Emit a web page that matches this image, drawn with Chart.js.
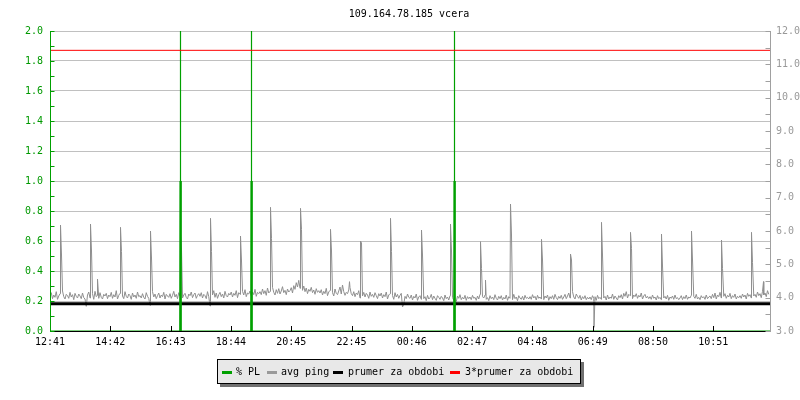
<!DOCTYPE html>
<html>
<head>
<meta charset="utf-8">
<script src="https://cdn.jsdelivr.net/npm/chart.js@4/dist/chart.umd.min.js"></script>
<style>
  html, body { margin: 0; padding: 0; background: #ffffff; }
  #wrap { position: relative; width: 800px; height: 400px; font-family: 'DejaVu Sans Mono', monospace; font-size: 10px; }
  #c { position: absolute; left: 0; top: 0; }
  #title { position: absolute; left: 49px; top: 8px; width: 720px; text-align: center; line-height: 12px; color: #000; white-space: pre; }
  #legend { position: absolute; left: 217px; top: 359px; width: 362px; height: 23px; background: #e8e8e8; border: 1px solid #000; box-shadow: 3px 3px 0 #707070; }
  .item { position: absolute; top: 6px; line-height: 12px; white-space: pre; color: #000; }
  .sw { position: absolute; top: 11px; width: 10px; height: 3px; }
</style>
</head>
<body>
<div id="wrap">
  <canvas id="c" width="800" height="400"></canvas>
  <div id="title"></div>
  <div id="legend"></div>
</div>
<script>
// ---------- DATA ----------
const chartTitle = '109.164.78.185 vcera';
const seriesNames = ['% PL', 'avg ping', 'prumer za obdobi', '3*prumer za obdobi'];
const seriesColors = ['#00a000', '#999999', '#000000', '#ff0000'];
const pingLineColor = '#8f8f8f';

// x axis: minutes from start of the 24 h window
const xMaxMin = 1440;
const tickLabels = ['12:41','14:42','16:43','18:44','20:45','22:45','00:46','02:47','04:48','06:49','08:50','10:51'];
const tickStepMin = 120.6;

// avg ping baseline, one value every 2.5 minutes (ms, right axis), one row per hour
const pingStepMin = 2.5;
const pingBase = [
  4.02,4.15,3.97,4.08,4.01,4.18,3.95,4.05,4.12,3.99,4.20,4.03,3.96,4.10,4.06,3.98,4.16,4.02,4.09,3.94,4.13,4.04,3.99,4.11,
  4.05,3.97,4.14,4.00,3.96,3.74,4.08,4.17,3.99,4.04,4.12,3.95,4.19,4.03,4.07,3.98,4.15,4.01,3.96,4.10,4.05,4.13,3.97,4.08,
  4.03,4.16,3.98,4.09,4.02,4.21,3.96,4.07,4.13,4.00,4.05,3.97,4.18,4.04,3.99,4.11,4.06,3.95,4.14,4.02,4.08,3.98,4.17,4.03,
  4.06,3.99,4.12,4.01,3.96,4.15,4.04,3.98,3.77,4.09,4.18,4.02,4.11,3.97,4.06,4.14,3.99,4.08,4.03,4.16,3.96,4.10,4.05,4.01,
  4.12,3.98,4.07,4.19,4.02,4.10,3.97,4.15,4.05,4.22,3.99,4.08,4.13,4.01,3.96,4.11,4.06,4.17,4.00,4.09,4.14,3.98,4.07,4.12,
  4.04,4.15,3.99,4.10,4.06,3.97,4.18,4.03,3.75,4.12,4.08,4.21,4.01,4.14,3.98,4.09,4.16,4.03,4.11,3.99,4.19,4.06,4.02,4.13,
  4.08,4.17,4.02,4.13,4.07,4.21,4.00,4.15,4.10,4.05,4.19,4.08,4.24,4.03,4.14,4.11,4.20,4.06,4.17,4.09,4.25,4.04,4.16,4.12,
  4.18,4.09,4.26,4.12,4.21,4.07,4.29,4.14,4.19,4.10,4.31,4.16,4.08,4.24,4.13,4.27,4.11,4.20,4.33,4.15,4.22,4.09,4.26,4.17,
  4.21,4.30,4.14,4.36,4.25,4.45,4.32,4.52,4.28,4.40,4.22,4.35,4.18,4.29,4.12,4.25,4.19,4.31,4.15,4.23,4.10,4.27,4.16,4.21,
  4.14,4.24,4.08,4.19,4.12,4.28,4.06,4.17,4.22,4.10,4.15,4.05,4.26,4.13,4.09,4.20,4.32,4.11,4.38,4.18,4.07,4.16,4.12,4.23,
  4.30,4.12,4.06,4.18,4.03,4.14,4.09,4.21,3.99,4.11,4.05,4.16,4.02,4.13,4.08,3.98,4.17,4.04,4.10,4.01,4.15,4.06,3.97,4.12,
  4.05,4.14,3.99,4.09,4.03,4.17,3.96,4.08,4.12,4.00,4.06,3.95,4.15,4.02,4.10,3.98,4.07,4.13,3.72,3.80,4.04,3.97,4.11,4.01,
  3.98,4.08,3.93,4.04,3.99,4.11,3.92,4.02,4.06,3.95,4.09,3.97,4.03,3.91,4.07,3.96,4.00,4.10,3.94,4.05,3.98,3.92,4.06,4.01,
  3.95,4.04,3.99,3.91,4.08,3.97,4.02,3.93,4.06,3.96,4.00,3.92,3.74,3.88,4.05,3.98,4.09,3.94,4.01,3.96,4.07,3.92,4.03,3.97,
  4.02,3.94,4.07,3.98,4.01,3.92,4.05,3.96,4.10,3.93,4.03,3.99,4.08,3.95,4.00,3.91,4.06,3.97,4.02,3.94,4.09,3.98,3.93,4.04,
  3.97,4.06,3.93,4.01,3.96,4.08,3.92,4.03,3.98,4.05,3.94,4.10,3.97,4.02,3.91,4.06,3.99,3.95,4.04,3.93,4.07,3.98,4.01,3.96,
  4.03,3.95,4.09,3.99,4.04,3.93,4.07,3.98,4.02,3.96,4.11,3.94,4.05,3.99,4.08,3.92,4.03,3.97,4.06,3.95,4.10,4.00,3.94,4.04,
  3.98,4.07,3.95,4.02,4.10,3.97,4.05,4.14,3.99,4.08,4.18,4.02,3.96,4.11,4.04,3.98,4.07,3.93,4.03,3.97,4.06,3.94,4.01,3.96,
  4.02,3.94,4.06,3.98,4.03,3.92,4.07,3.97,4.01,3.95,4.09,3.99,4.04,3.93,4.08,3.96,4.02,3.98,4.11,3.95,4.05,3.99,3.93,4.06,
  4.00,4.09,3.96,4.13,4.04,4.18,3.99,4.10,4.06,4.15,3.97,4.08,4.03,4.12,3.98,4.07,4.02,4.14,3.96,4.05,4.10,3.99,4.04,3.97,
  4.03,3.95,4.08,3.98,4.02,3.93,4.06,3.97,4.01,3.94,4.09,3.99,4.04,3.96,4.07,3.92,4.02,3.98,4.05,3.95,4.08,3.97,4.00,3.94,
  3.99,4.06,3.94,4.03,3.97,4.08,3.95,4.02,3.99,4.07,3.93,4.04,3.98,4.10,3.96,4.01,3.94,4.06,3.99,4.03,3.95,4.08,3.97,4.02,
  4.05,3.97,4.10,4.00,4.14,3.96,4.08,4.03,4.16,3.99,4.09,4.04,4.12,3.98,4.07,4.02,4.13,3.97,4.06,4.01,4.11,3.96,4.04,4.00,
  4.06,3.98,4.11,4.02,4.08,3.96,4.13,4.04,4.09,3.99,4.15,4.05,4.10,4.01,4.17,4.06,4.12,4.00,4.19,4.08,4.14,4.03,4.21,4.10
];
// hourly ping spikes: minute, peak sample, following sample (ms)
const spikeMin    = [21, 81, 141, 201, 261, 321, 381, 441, 501, 561, 621, 681, 743, 801, 861, 921, 983, 1041, 1103, 1161, 1223, 1283, 1343, 1403];
const spikePeak   = [6.18,6.21,6.11,6.00,5.88,6.38,5.85,6.71,6.68,6.05,5.70,6.38,6.03,6.21,5.68,6.81,5.75,5.31,6.26,5.96,5.91,6.00,5.73,5.96];
const spikeSecond = [5.28,5.40,5.38,5.19,5.46,5.38,5.10,5.78,6.05,5.40,5.65,5.38,5.28,5.40,4.88,5.88,5.13,5.13,5.28,5.48,4.95,5.13,4.88,5.05];
// single odd samples (small blips and one dip)
const blipMin = [95, 599, 871, 1088, 1427];
const blipVal = [4.56, 4.48, 4.53, 3.11, 4.48];

// % PL samples (left axis), values above 2.0 run off the top
const plMin = [0, 259.5, 260, 261, 261, 261, 262, 262.5, 401.5, 402, 403, 403, 403, 404, 404.5, 807.5, 808, 809, 809, 809, 810, 810.5, 1440];
const plVal = [0, 0,     1,   1,   3,   0,   1,   0,     0,     1,   1,   3,   0,   1,   0,     0,     1,   1,   3,   0,   1,   0,     0];

// period averages (ms, right axis)
const meanPing = 3.82;
const threeMeanPing = 11.42;

// axis ranges
const leftMin = 0, leftMax = 2, leftStep = 0.2, leftMinorStep = 0.1;
const rightMin = 3, rightMax = 12, rightStep = 1, rightMinorStep = 0.5;

// ---------- BUILD ----------
const FONT = "'DejaVu Sans Mono', monospace";
Chart.defaults.font.family = FONT;
Chart.defaults.font.size = 10;

let pingPts = pingBase.map((v, i) => ({ x: i * pingStepMin, y: v }));
// a spike replaces the baseline sample that falls right after its peak
pingPts = pingPts.filter(p => !spikeMin.some(t => p.x > t && p.x <= t + 2.4));
spikeMin.forEach((t, i) => {
  pingPts.push({ x: t, y: spikePeak[i] });
  pingPts.push({ x: t + 2, y: spikeSecond[i] });
});
blipMin.forEach((t, i) => pingPts.push({ x: t, y: blipVal[i] }));
pingPts.sort((a, b) => a.x - b.x);

const plPts = plMin.map((t, i) => ({ x: t, y: plVal[i] }));

document.getElementById('title').textContent = chartTitle;

// legend (HTML, real text)
const legendPos = [[222, 236], [267, 281], [333, 348], [450, 465]];
const lg = document.getElementById('legend');
seriesNames.forEach((n, i) => {
  const sw = document.createElement('div');
  sw.className = 'sw';
  sw.style.left = (legendPos[i][0] - 218) + 'px';
  sw.style.background = seriesColors[i];
  lg.appendChild(sw);
  const tx = document.createElement('div');
  tx.className = 'item';
  tx.style.left = (legendPos[i][1] - 218) + 'px';
  tx.textContent = n;
  lg.appendChild(tx);
});

const axesPlugin = {
  id: 'axesPlugin',
  afterDatasetsDraw(chart) {
    const { ctx, chartArea: a, scales } = chart;
    const yl = scales.yLeft, yr = scales.yRight, x = scales.x;
    ctx.save();
    ctx.lineWidth = 1;
    // bottom axis
    ctx.strokeStyle = '#000';
    ctx.beginPath();
    ctx.moveTo(a.left, Math.round(a.bottom) + 0.5);
    ctx.lineTo(a.right, Math.round(a.bottom) + 0.5);
    ctx.stroke();
    // x ticks (inward)
    x.ticks.forEach(t => {
      const px = Math.round(x.getPixelForValue(t.value)) + 0.5;
      ctx.beginPath();
      ctx.moveTo(px, a.bottom);
      ctx.lineTo(px, a.bottom - 5);
      ctx.stroke();
    });
    // left axis
    ctx.strokeStyle = seriesColors[0];
    const lx = Math.round(a.left) + 0.5;
    ctx.beginPath();
    ctx.moveTo(lx, a.top);
    ctx.lineTo(lx, a.bottom + 1);
    ctx.stroke();
    for (let k = 0; k <= Math.round((leftMax - leftMin) / leftMinorStep); k++) {
      const py = Math.round(yl.getPixelForValue(leftMin + k * leftMinorStep)) + 0.5;
      ctx.beginPath();
      ctx.moveTo(lx, py);
      ctx.lineTo(lx + 4, py);
      ctx.stroke();
    }
    // right axis
    ctx.strokeStyle = '#a0a0a0';
    const rx = Math.round(a.right) + 0.5;
    ctx.beginPath();
    ctx.moveTo(rx, a.top);
    ctx.lineTo(rx, a.bottom + 1);
    ctx.stroke();
    for (let k = 0; k <= Math.round((rightMax - rightMin) / rightMinorStep); k++) {
      const py = Math.round(yr.getPixelForValue(rightMin + k * rightMinorStep)) + 0.5;
      ctx.beginPath();
      ctx.moveTo(rx, py);
      ctx.lineTo(rx - 5, py);
      ctx.stroke();
    }
    ctx.restore();
  }
};

new Chart(document.getElementById('c'), {
  type: 'line',
  data: {
    datasets: [
      { label: seriesNames[0], data: plPts, yAxisID: 'yLeft', borderColor: seriesColors[0], borderWidth: 1.2, order: 1 },
      { label: seriesNames[1], data: pingPts, yAxisID: 'yRight', borderColor: pingLineColor, borderWidth: 1, order: 3 },
      { label: seriesNames[2], data: [{ x: 0, y: meanPing }, { x: xMaxMin, y: meanPing }], yAxisID: 'yRight', borderColor: seriesColors[2], borderWidth: 3, order: 2 },
      { label: seriesNames[3], data: [{ x: 0, y: threeMeanPing }, { x: xMaxMin, y: threeMeanPing }], yAxisID: 'yRight', borderColor: seriesColors[3], borderWidth: 1, order: 0 }
    ]
  },
  options: {
    responsive: false,
    animation: false,
    devicePixelRatio: 1,
    elements: {
      point: { radius: 0, hoverRadius: 0 },
      line: { tension: 0, borderJoinStyle: 'bevel', fill: false }
    },
    layout: { padding: { top: 31, bottom: 49, left: 0, right: 0 } },
    plugins: { legend: { display: false }, title: { display: false }, tooltip: { enabled: false } },
    events: [],
    scales: {
      x: {
        type: 'linear',
        min: 0, max: xMaxMin,
        afterBuildTicks: s => { s.ticks = tickLabels.map((_, k) => ({ value: k * tickStepMin })); },
        afterFit: s => { s.height = 20; },
        grid: { display: false, drawTicks: false },
        border: { display: false },
        ticks: {
          autoSkip: false, maxRotation: 0, minRotation: 0, padding: 5,
          color: '#000', font: { family: FONT, size: 10 },
          callback: (v, i) => tickLabels[i]
        }
      },
      yLeft: {
        type: 'linear', position: 'left',
        min: leftMin, max: leftMax,
        afterFit: s => { s.width = 50; },
        grid: { color: '#c0c0c0', drawTicks: false, lineWidth: 1 },
        border: { display: false },
        ticks: {
          stepSize: leftStep, padding: 7, color: '#009900',
          font: { family: FONT, size: 10 },
          callback: v => Number(v).toFixed(1)
        }
      },
      yRight: {
        type: 'linear', position: 'right',
        min: rightMin, max: rightMax,
        afterFit: s => { s.width = 30; },
        grid: { display: false, drawTicks: false },
        border: { display: false },
        ticks: {
          stepSize: rightStep, padding: 6, color: '#999999',
          font: { family: FONT, size: 10 },
          callback: v => Number(v).toFixed(1)
        }
      }
    }
  },
  plugins: [axesPlugin]
});
</script>
</body>
</html>
